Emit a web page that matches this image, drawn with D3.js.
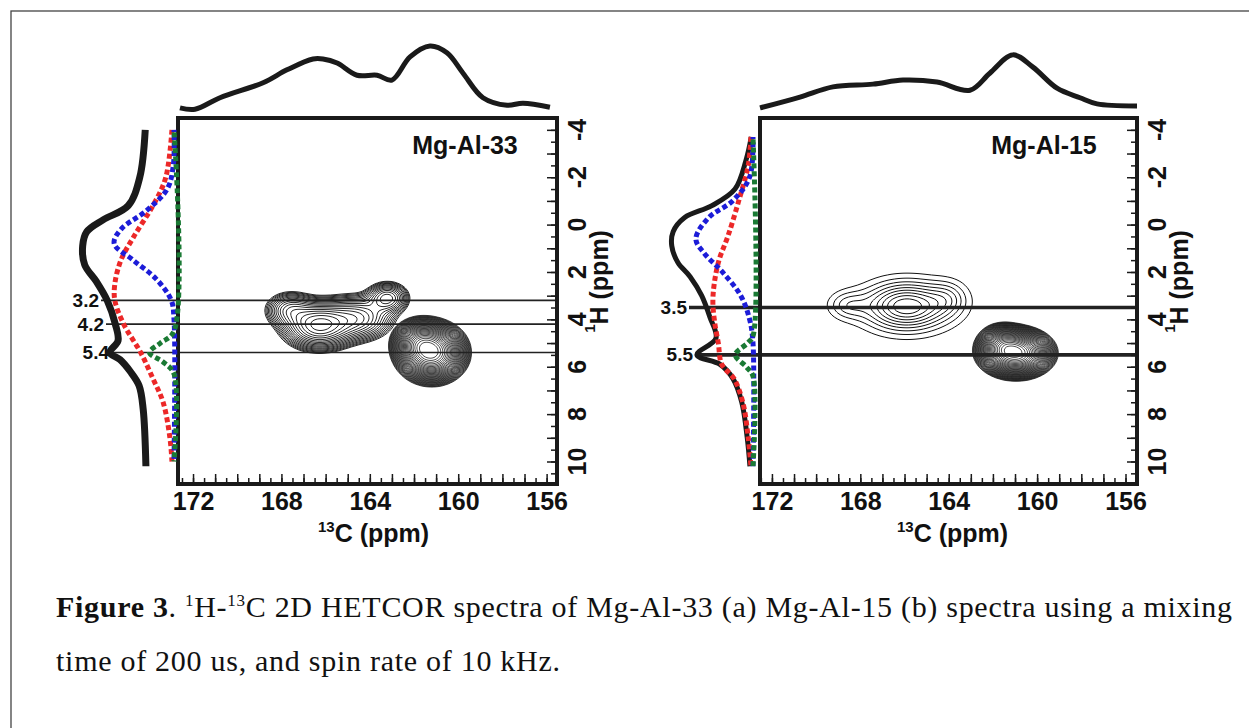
<!DOCTYPE html>
<html>
<head>
<meta charset="utf-8">
<script src="https://cdn.jsdelivr.net/npm/d3@7"></script>
<style>
  body { margin: 0; background: #fff; }
  svg { display: block; }
  .lbl { font-family: "Liberation Sans", Arial, sans-serif; font-weight: bold; fill: #111; }
  .cap { font-family: "Liberation Serif", "Times New Roman", serif; fill: #111; }
</style>
</head>
<body>
<script>
// ---- values ----
const cTicks = [172, 168, 164, 160, 156];
const hTicks = [-4, -2, 0, 2, 4, 6, 8, 10];
const sampleNames = ["Mg-Al-33", "Mg-Al-15"];
const cutsA = [3.2, 4.2, 5.4];
const cutsB = [3.5, 5.5];

// 13C projections: [ppm, intensity]
const topA = [[172.59, 0.06], [171.91, 0.04], [170.78, 0.21], [168.83, 0.43], [167.75, 0.62],
  [166.57, 0.78], [166.12, 0.78], [165.48, 0.72], [164.58, 0.54], [163.67, 0.54], [163.0, 0.47],
  [162.18, 0.81], [161.28, 0.97], [160.51, 0.87], [159.78, 0.57], [158.88, 0.21], [157.79, 0.10],
  [157.07, 0.13], [155.85, 0.07]];
const topB = [[172.54, 0.06], [170.73, 0.22], [169.24, 0.37], [167.43, 0.41], [166.07, 0.47],
  [164.53, 0.44], [163.04, 0.32], [162.14, 0.57], [161.1, 0.84], [160.19, 0.66], [159.1, 0.35],
  [158.06, 0.21], [157.29, 0.12], [155.48, 0.09]];

// 1H projections: [ppm, intensity]
const sumA = [[-4.0, 0.07], [-2.0, 0.15], [-0.8, 0.32], [-0.2, 0.69], [0.3, 0.93], [0.9, 0.99],
  [1.7, 0.96], [2.4, 0.79], [3.2, 0.63], [4.2, 0.51], [4.9, 0.47], [5.4, 0.59], [5.7, 0.44],
  [6.2, 0.29], [6.8, 0.16], [7.8, 0.10], [10.2, 0.06]];
const redA = [[-4.0, 0.03], [-2.0, 0.12], [-0.9, 0.29], [0.5, 0.59], [1.5, 0.78], [2.5, 0.87],
  [3.2, 0.87], [4.2, 0.74], [5.4, 0.49], [6.5, 0.31], [7.5, 0.16], [9.0, 0.06], [10.0, 0.03]];
const blueA = [[-4.0, 0.0], [-2.5, 0.01], [-1.5, 0.1], [-0.6, 0.4], [0.2, 0.78], [0.8, 0.88],
  [1.5, 0.6], [2.3, 0.26], [3.2, 0.04], [4.0, 0.0], [10.0, 0.0]];
const greenA = [[-4.0, 0.0], [4.5, 0.0], [5.0, 0.2], [5.4, 0.36], [5.8, 0.16], [6.3, 0.0], [10.0, 0.0]];

const sumB = [[-3.7, 0.01], [-2.7, 0.09], [-1.5, 0.25], [-0.8, 0.59], [-0.3, 0.99], [0.3, 1.16],
  [0.9, 1.18], [1.6, 1.09], [2.2, 0.91], [3.0, 0.74], [3.9, 0.62], [4.8, 0.53], [5.5, 0.81],
  [5.9, 0.47], [6.5, 0.28], [7.5, 0.15], [9.0, 0.07], [10.2, 0.03]];
const redB = [[-3.7, 0.03], [-2.5, 0.07], [-1.0, 0.21], [0.5, 0.37], [1.5, 0.5], [2.5, 0.57],
  [3.3, 0.59], [4.2, 0.56], [5.0, 0.51], [5.9, 0.46], [6.5, 0.28], [7.5, 0.15], [9.0, 0.07], [10.2, 0.03]];
const blueB = [[-3.7, 0.0], [-2.0, 0.05], [-1.0, 0.3], [-0.3, 0.65], [0.6, 0.84], [1.2, 0.72],
  [2.0, 0.45], [3.0, 0.18], [4.0, 0.05], [5.0, 0.0], [10.2, 0.0]];
const greenB = [[-3.7, 0.0], [4.7, 0.0], [5.0, 0.08], [5.5, 0.26], [6.0, 0.1], [6.4, 0.0], [10.2, 0.0]];

// 2D peaks: [13C ppm, 1H ppm, width C, width H, height]
const peaksA1 = [[166.3, 4.25, 0.8, 0.5, 1.0], [167.6, 3.6, 0.6, 0.4, 0.35],
  [164.6, 3.95, 0.85, 0.5, 0.5], [163.2, 3.1, 0.5, 0.35, 0.45]];
const peaksA2 = [[161.2, 5.4, 0.68, 0.55, 1.0], [161.8, 4.95, 0.55, 0.45, 0.35]];
const peaksB1 = [[165.9, 3.45, 1.3, 0.68, 1.0], [168.6, 3.4, 0.6, 0.4, 0.3], [164.0, 3.1, 0.6, 0.5, 0.25]];
const peaksB2 = [[160.95, 5.42, 0.72, 0.45, 1.0], [161.6, 5.05, 0.5, 0.4, 0.3]];
// contour levels: [lowest, highest, count, spacing]
const levelsA1 = [0.06, 0.95, 18, "log"];
const levelsA2 = [0.03, 0.97, 34, "log"];
const levelsB1 = [0.12, 0.9, 9, "lin"];
const levelsB2 = [0.03, 0.97, 34, "log"];

// ---- layout ----
const W = 1249, H = 728;
const boxTop = 118, boxBottom = 484;
const hDomain = [-4.5, 10.95];
const pxPerInt = 68;

const panels = [
  { name: sampleNames[0], x0: 178, x1: 557, cDom: [172.68, 155.53], top: topA,
    sum: sumA, red: redA, blue: blueA, green: greenA, base: 150, dotBase: 174, sumW: 7,
    cuts: cutsA, cutStart: [101, 106, 111], cutW: 1.6, titleX: 465, xTitleShift: 6,
    peaks: [[peaksA1, levelsA1, 0.9], [peaksA2, levelsA2, 0.75]] },
  { name: sampleNames[1], x0: 760, x1: 1137, cDom: [172.54, 155.48], top: topB,
    sum: sumB, red: redB, blue: blueB, green: greenB, base: 752, dotBase: 753, sumW: 5,
    cuts: cutsB, cutStart: [689, 695], cutW: 3.6, titleX: 1044, xTitleShift: 4,
    peaks: [[peaksB1, levelsB1, 1.0], [peaksB2, levelsB2, 0.75]] }
];

const svg = d3.select("body").append("svg")
  .attr("width", W).attr("height", H)
  .attr("viewBox", [0, 0, W, H]);

// figure frame
svg.append("rect")
  .attr("x", 11).attr("y", 11).attr("width", 1400).attr("height", 1000)
  .attr("fill", "none").attr("stroke", "#444").attr("stroke-width", 1.3);

const yScale = d3.scaleLinear().domain(hDomain).range([boxTop, boxBottom]);
const topY = d3.scaleLinear().domain([0, 1]).range([112, 112 - pxPerInt]);

panels.forEach((p) => {
  const g = svg.append("g");
  const xScale = d3.scaleLinear().domain(p.cDom).range([p.x0, p.x1]);

  // contours
  const cell = 2;
  const n = Math.ceil((p.x1 - p.x0) / cell), m = Math.ceil((boxBottom - boxTop) / cell);
  const toPx = d3.geoTransform({
    point(x, y) { this.stream.point(p.x0 + x * cell, boxTop + y * cell); }
  });
  const path = d3.geoPath(toPx);
  p.peaks.forEach(([peaks, lev, sw]) => {
    const vals = new Float64Array(n * m);
    for (let j = 0; j < m; j++) {
      const h = yScale.invert(boxTop + (j + 0.5) * cell);
      for (let i = 0; i < n; i++) {
        const c = xScale.invert(p.x0 + (i + 0.5) * cell);
        let v = 0;
        for (const [c0, h0, sc, sh, a] of peaks) {
          v += a * Math.exp(-((c - c0) ** 2) / (2 * sc * sc) - ((h - h0) ** 2) / (2 * sh * sh));
        }
        vals[j * n + i] = v;
      }
    }
    const [lo, hi, k, mode] = lev;
    const thresholds = mode === "log"
      ? d3.range(k).map(i => lo * Math.pow(hi / lo, i / (k - 1)))
      : d3.range(k).map(i => lo + (hi - lo) * i / (k - 1));
    g.append("g").selectAll("path")
      .data(d3.contours().size([n, m]).thresholds(thresholds)(vals))
      .join("path")
      .attr("d", path)
      .attr("fill", "none")
      .attr("stroke", "#111")
      .attr("stroke-width", sw);
  });

  // cut lines
  p.cuts.forEach((v, i) => {
    g.append("line")
      .attr("x1", p.cutStart[i]).attr("x2", p.x1)
      .attr("y1", yScale(v)).attr("y2", yScale(v))
      .attr("stroke", "#222").attr("stroke-width", p.cutW);
    g.append("text").attr("class", "lbl")
      .attr("x", p.cutStart[i] - 2).attr("y", yScale(v))
      .attr("text-anchor", "end").attr("dominant-baseline", "central")
      .attr("font-size", 19)
      .text(v.toFixed(1));
  });

  // box
  g.append("rect")
    .attr("x", p.x0).attr("y", boxTop)
    .attr("width", p.x1 - p.x0).attr("height", boxBottom - boxTop)
    .attr("fill", "none").attr("stroke", "#1a1a1a").attr("stroke-width", 4);

  // inward ticks, bottom
  const minorC = d3.range(156, 172.6, 0.5);
  const majorC = d3.range(156, 173, 1);
  g.append("g").attr("transform", `translate(0,${boxBottom})`)
    .call(d3.axisBottom(xScale).tickValues(minorC).tickSize(-6).tickFormat(""))
    .call(a => a.select(".domain").remove())
    .call(a => a.selectAll("line").attr("stroke", "#1a1a1a").attr("stroke-width", 1.5));
  g.append("g").attr("transform", `translate(0,${boxBottom})`)
    .call(d3.axisBottom(xScale).tickValues(majorC).tickSize(-10).tickFormat(""))
    .call(a => a.select(".domain").remove())
    .call(a => a.selectAll("line").attr("stroke", "#1a1a1a").attr("stroke-width", 1.5));
  g.append("g").attr("transform", `translate(0,${boxBottom})`)
    .call(d3.axisBottom(xScale).tickValues(cTicks).tickSize(0).tickPadding(8).tickFormat(d3.format("d")))
    .call(a => a.select(".domain").remove())
    .call(a => a.selectAll("text").attr("class", "lbl").attr("font-size", 25).attr("fill", "#111"));

  // inward ticks, right
  const minorH = d3.range(-4.5, 10.6, 0.5);
  const majorH = d3.range(-4, 11, 1);
  g.append("g").attr("transform", `translate(${p.x1},0)`)
    .call(d3.axisRight(yScale).tickValues(minorH).tickSize(-6).tickFormat(""))
    .call(a => a.select(".domain").remove())
    .call(a => a.selectAll("line").attr("stroke", "#1a1a1a").attr("stroke-width", 1.5));
  g.append("g").attr("transform", `translate(${p.x1},0)`)
    .call(d3.axisRight(yScale).tickValues(majorH).tickSize(-10).tickFormat(""))
    .call(a => a.select(".domain").remove())
    .call(a => a.selectAll("line").attr("stroke", "#1a1a1a").attr("stroke-width", 1.5));
  g.append("g").selectAll("text")
    .data(hTicks)
    .join("text").attr("class", "lbl")
    .attr("transform", d => `translate(${p.x1 + 20},${yScale(d)}) rotate(-90)`)
    .attr("text-anchor", "middle").attr("dominant-baseline", "central")
    .attr("font-size", 25)
    .text(d => d);

  // axis titles
  const xt = g.append("text").attr("class", "lbl")
    .attr("x", (p.x0 + p.x1) / 2 + p.xTitleShift).attr("y", 542)
    .attr("text-anchor", "middle").attr("font-size", 25);
  xt.append("tspan").attr("font-size", 15).attr("dy", -10).text("13");
  xt.append("tspan").attr("dy", 10).text("C (ppm)");
  const yt = g.append("text").attr("class", "lbl")
    .attr("transform", `translate(${p.x1 + 42},${yScale(2.4)}) rotate(-90)`)
    .attr("text-anchor", "middle").attr("dominant-baseline", "central").attr("font-size", 25);
  yt.append("tspan").attr("font-size", 15).attr("dy", -10).text("1");
  yt.append("tspan").attr("dy", 10).text("H (ppm)");

  // sample name
  g.append("text").attr("class", "lbl")
    .attr("x", p.titleX).attr("y", 154)
    .attr("text-anchor", "middle").attr("font-size", 25)
    .text(p.name);

  // 13C projection on top
  const topLine = d3.line()
    .x(d => xScale(d[0])).y(d => topY(d[1]))
    .curve(d3.curveCatmullRom.alpha(0.5));
  g.append("path").attr("d", topLine(p.top))
    .attr("fill", "none").attr("stroke", "#1a1a1a").attr("stroke-width", 5)
    .attr("stroke-linejoin", "round");

  // 1H projection and its fitted components on the left
  const sideLine = base => d3.line()
    .x(d => base - d[1] * pxPerInt).y(d => yScale(d[0]))
    .curve(d3.curveCatmullRom.alpha(0.5));
  g.append("path").attr("d", sideLine(p.base)(p.sum))
    .attr("fill", "none").attr("stroke", "#1a1a1a").attr("stroke-width", p.sumW)
    .attr("stroke-linejoin", "round");
  [[p.red, "#ec2828", 0], [p.blue, "#1c1cd8", 2.7], [p.green, "#1a7a34", 5.4]].forEach(([s, col, off]) => {
    g.append("path").attr("d", sideLine(p.dotBase)(s))
      .attr("fill", "none").attr("stroke", col).attr("stroke-width", 5)
      .attr("stroke-dasharray", "5 3").attr("stroke-dashoffset", off);
  });
});

// caption
const cap1 = svg.append("text").attr("class", "cap").attr("x", 56).attr("y", 617)
  .attr("font-size", 30).attr("textLength", 1176).attr("lengthAdjust", "spacing");
cap1.append("tspan").attr("font-weight", "bold").text("Figure 3");
cap1.append("tspan").text(". ");
cap1.append("tspan").attr("font-size", 17).attr("dy", -11).text("1");
cap1.append("tspan").attr("dy", 11).text("H-");
cap1.append("tspan").attr("font-size", 17).attr("dy", -11).text("13");
cap1.append("tspan").attr("dy", 11).text("C 2D HETCOR spectra of Mg-Al-33 (a) Mg-Al-15 (b) spectra using a mixing");
svg.append("text").attr("class", "cap").attr("x", 56).attr("y", 671).attr("font-size", 30)
  .attr("textLength", 504).attr("lengthAdjust", "spacing")
  .text("time of 200 us, and spin rate of 10 kHz.");
</script>
</body>
</html>
